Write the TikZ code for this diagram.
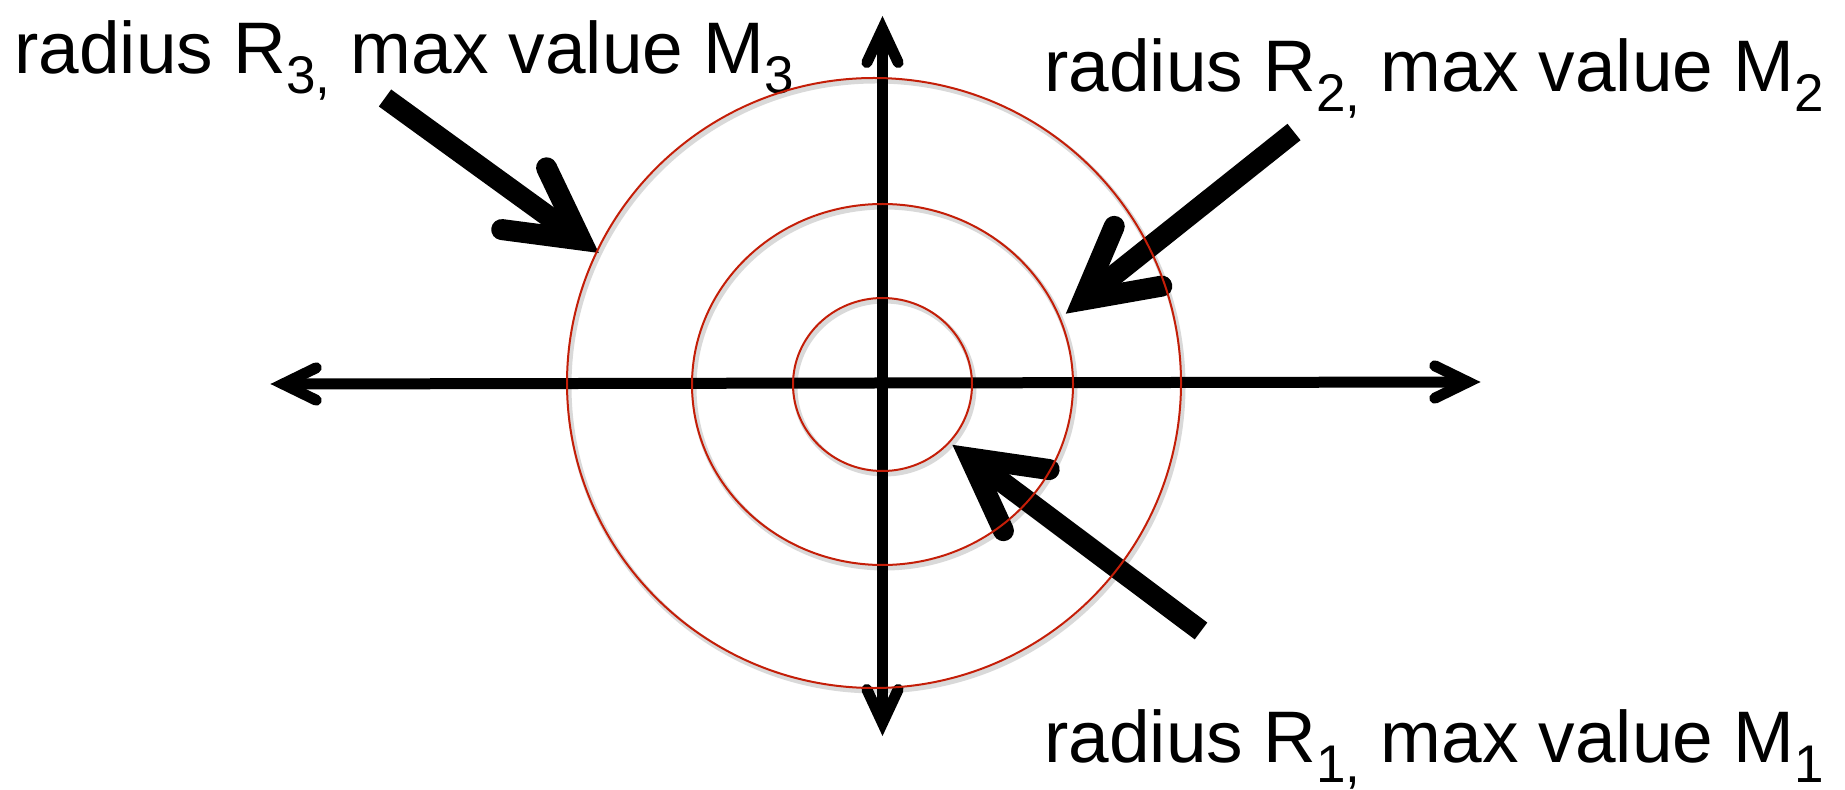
\documentclass[tikz,border=0pt]{standalone}
\usepackage{fontspec}
\usepackage{graphicx}
\setmainfont{Liberation Sans}
\newcommand\sbs[1]{\raisebox{-10pt}{\fontsize{26.5}{26.5}\selectfont #1}}
\definecolor{circred}{RGB}{196,30,8}
\begin{document}
\begin{tikzpicture}[x=0.5pt,y=-0.5pt,
  axis/.style={line width=5.5pt,black},
  axhead/.style={line width=5.5pt,black,line cap=round,line join=miter},
  ring/.style={circred,line width=1pt},
  ringshadow/.style={black!15,line width=2.5pt},
  bigshaft/.style={line width=10.5pt,black,line cap=butt},
  bighead/.style={line width=10.5pt,black,line cap=round,line join=miter},
  lbl/.style={inner sep=0pt,anchor=base west,font=\fontsize{36.5}{44}\selectfont}]
\useasboundingbox (0,0) rectangle (1845,790);

% centres
\coordinate (oc) at (874,383);
\coordinate (ic) at (882.5,384.5);

% ring shadows (beneath everything)
\draw[ringshadow] ([shift={(2,3)}]oc) ellipse [x radius=307, y radius=305];
\draw[ringshadow] ([shift={(2,3)}]ic) ellipse [x radius=190.5, y radius=180.5];
\draw[ringshadow] ([shift={(2,3)}]ic) ellipse [x radius=89.5, y radius=86.5];

% axes
\coordinate (L) at (283,384);
\coordinate (R) at (1468,382);
\coordinate (T) at (882.5,29);
\coordinate (B) at (882.5,723);
\draw[axis] (L) -- (R);
\draw[axis] (T) -- (B);
\draw[axhead] ([shift={(26:37)}]L) -- (L) -- ([shift={(-26:37)}]L);
\draw[axhead] ([shift={(154:37)}]R) -- (R) -- ([shift={(206:37)}]R);
\draw[axhead] ([shift={(65:37)}]T) -- (T) -- ([shift={(115:37)}]T);
\draw[axhead] ([shift={(245:37)}]B) -- (B) -- ([shift={(295:37)}]B);

% labels
\node[lbl] (t3) at (14,74) {radius R\sbs{3,} max value M\sbs{3}};
\node[lbl] (t2) at (1044,92) {radius R\sbs{2,} max value M\sbs{2}};
\node[lbl] (t1) at (1044,762) {radius R\sbs{1,} max value M\sbs{1}};

% big arrows
\coordinate (s3) at (385,98);   \coordinate (v3) at (581,240);
\coordinate (s2) at (1294,132); \coordinate (v2) at (1083,300);
\coordinate (s1) at (1201,631); \coordinate (v1) at (970,458);
\draw[bigshaft] (s3) -- (v3);
\draw[bighead] ([shift={(187.5:80)}]v3) -- (v3) -- ([shift={(244.5:80)}]v3);
\draw[bigshaft] (s2) -- (v2);
\draw[bighead] ([shift={(293:80)}]v2) -- (v2) -- ([shift={(350:80)}]v2);
\draw[bigshaft] (s1) -- (v1);
\draw[bighead] ([shift={(8.3:80)}]v1) -- (v1) -- ([shift={(65.3:80)}]v1);

% rings
\draw[ring] (oc) ellipse [x radius=307, y radius=305];
\draw[ring] (ic) ellipse [x radius=190.5, y radius=180.5];
\draw[ring] (ic) ellipse [x radius=89.5, y radius=86.5];
\end{tikzpicture}
\end{document}
